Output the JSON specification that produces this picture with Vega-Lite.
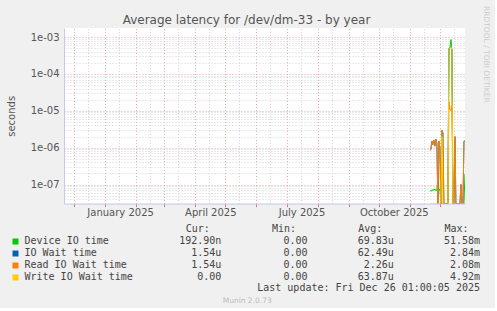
{
  "$schema": "https://vega.github.io/schema/vega-lite/v6.json",
  "background": "#f0f0f0",
  "padding": {"left": 6, "top": 6, "right": 5, "bottom": 3},
  "title": {"text": "RRDTOOL / TOBI OETIKER", "orient": "right", "anchor": "start", "font": "DejaVu Sans", "fontSize": 7.5, "fontWeight": "normal", "color": "#cccccc", "offset": 2, "dx": -8},
  "spacing": 6,
  "config": {"view": {"stroke": null}, "font": "DejaVu Sans"},
  "vconcat": [
    {
      "width": 401,
      "height": 175.6,
      "view": {"fill": "white", "stroke": null},
      "title": {"text": "Average latency for /dev/dm-33 - by year", "frame": "group", "anchor": "middle", "dx": -18, "font": "DejaVu Sans", "fontSize": 12, "fontWeight": "normal", "color": "#555555", "offset": 1},
      "data": {"values": [
        {"date": "2025-11-21", "Device IO time": 6.5e-8, "IO Wait time": 8.5e-7, "Read IO Wait time": 8.5e-7, "Write IO Wait time": 0},
        {"date": "2025-11-22", "Device IO time": 7.0e-8, "IO Wait time": 9.0e-7, "Read IO Wait time": 9.0e-7, "Write IO Wait time": 0},
        {"date": "2025-11-23", "Device IO time": 6.6e-8, "IO Wait time": 1.5e-6, "Read IO Wait time": 1.5e-6, "Write IO Wait time": 0},
        {"date": "2025-11-24", "Device IO time": 7.4e-8, "IO Wait time": 1.2e-6, "Read IO Wait time": 1.2e-6, "Write IO Wait time": 0},
        {"date": "2025-11-25", "Device IO time": 7.0e-8, "IO Wait time": 1.6e-6, "Read IO Wait time": 1.6e-6, "Write IO Wait time": 0},
        {"date": "2025-11-26", "Device IO time": 7.6e-8, "IO Wait time": 1.1e-6, "Read IO Wait time": 1.1e-6, "Write IO Wait time": 0},
        {"date": "2025-11-27", "Device IO time": 6.8e-8, "IO Wait time": 1.7e-6, "Read IO Wait time": 1.7e-6, "Write IO Wait time": 0},
        {"date": "2025-11-28", "Device IO time": 7.2e-8, "IO Wait time": 1.3e-6, "Read IO Wait time": 1.3e-6, "Write IO Wait time": 0},
        {"date": "2025-11-29", "Device IO time": 1.6e-7, "IO Wait time": 0, "Read IO Wait time": 0, "Write IO Wait time": 0},
        {"date": "2025-11-30", "Device IO time": 7.0e-8, "IO Wait time": 1.5e-6, "Read IO Wait time": 1.5e-6, "Write IO Wait time": 0},
        {"date": "2025-12-01", "Device IO time": 7.5e-8, "IO Wait time": 1.0e-6, "Read IO Wait time": 1.0e-6, "Write IO Wait time": 0},
        {"date": "2025-12-02", "Device IO time": 0, "IO Wait time": 0, "Read IO Wait time": 0, "Write IO Wait time": 0},
        {"date": "2025-12-03", "Device IO time": 0, "IO Wait time": 3.0e-6, "Read IO Wait time": 3.0e-6, "Write IO Wait time": 2.0e-6},
        {"date": "2025-12-04", "Device IO time": 0, "IO Wait time": 2.5e-6, "Read IO Wait time": 2.5e-6, "Write IO Wait time": 0},
        {"date": "2025-12-05", "Device IO time": 0, "IO Wait time": 0, "Read IO Wait time": 0, "Write IO Wait time": 0},
        {"date": "2025-12-06", "Device IO time": 0, "IO Wait time": 0, "Read IO Wait time": 0, "Write IO Wait time": 0},
        {"date": "2025-12-07", "Device IO time": 0, "IO Wait time": 0, "Read IO Wait time": 0, "Write IO Wait time": 0},
        {"date": "2025-12-08", "Device IO time": 0, "IO Wait time": 0, "Read IO Wait time": 0, "Write IO Wait time": 0},
        {"date": "2025-12-09", "Device IO time": 0, "IO Wait time": 0, "Read IO Wait time": 0, "Write IO Wait time": 0},
        {"date": "2025-12-10", "Device IO time": 4.0e-4, "IO Wait time": 5.0e-4, "Read IO Wait time": 1.8e-5, "Write IO Wait time": 5.0e-4},
        {"date": "2025-12-11", "Device IO time": 5.2e-4, "IO Wait time": 5.0e-4, "Read IO Wait time": 1.1e-5, "Write IO Wait time": 5.0e-4},
        {"date": "2025-12-12", "Device IO time": 8.5e-4, "IO Wait time": 5.5e-4, "Read IO Wait time": 1.0e-5, "Write IO Wait time": 5.5e-4},
        {"date": "2025-12-13", "Device IO time": 4.2e-4, "IO Wait time": 4.5e-4, "Read IO Wait time": 1.4e-5, "Write IO Wait time": 4.5e-4},
        {"date": "2025-12-14", "Device IO time": 0, "IO Wait time": 0, "Read IO Wait time": 0, "Write IO Wait time": 0},
        {"date": "2025-12-15", "Device IO time": 0, "IO Wait time": 0, "Read IO Wait time": 0, "Write IO Wait time": 0},
        {"date": "2025-12-16", "Device IO time": 0, "IO Wait time": 2.0e-6, "Read IO Wait time": 2.0e-6, "Write IO Wait time": 0},
        {"date": "2025-12-17", "Device IO time": 0, "IO Wait time": 0, "Read IO Wait time": 0, "Write IO Wait time": 0},
        {"date": "2025-12-18", "Device IO time": 0, "IO Wait time": 0, "Read IO Wait time": 0, "Write IO Wait time": 0},
        {"date": "2025-12-19", "Device IO time": 0, "IO Wait time": 0, "Read IO Wait time": 0, "Write IO Wait time": 0},
        {"date": "2025-12-20", "Device IO time": 0, "IO Wait time": 0, "Read IO Wait time": 0, "Write IO Wait time": 0},
        {"date": "2025-12-21", "Device IO time": 0, "IO Wait time": 0, "Read IO Wait time": 0, "Write IO Wait time": 0},
        {"date": "2025-12-22", "Device IO time": 0, "IO Wait time": 1.0e-7, "Read IO Wait time": 1.0e-7, "Write IO Wait time": 0},
        {"date": "2025-12-23", "Device IO time": 0, "IO Wait time": 0, "Read IO Wait time": 0, "Write IO Wait time": 0},
        {"date": "2025-12-24", "Device IO time": 0, "IO Wait time": 0, "Read IO Wait time": 0, "Write IO Wait time": 0},
        {"date": "2025-12-25", "Device IO time": 0, "IO Wait time": 1.5e-6, "Read IO Wait time": 1.5e-6, "Write IO Wait time": 0},
        {"date": "2025-12-26", "Device IO time": 1.93e-7, "IO Wait time": 1.54e-6, "Read IO Wait time": 1.54e-6, "Write IO Wait time": 0}
      ]},
      "transform": [{"fold": ["Device IO time", "IO Wait time", "Read IO Wait time", "Write IO Wait time"], "as": ["series", "value"]}],
      "layer": [
        {
          "mark": {"type": "line", "strokeWidth": 1, "clip": true, "invalid": "show"},
          "encoding": {
            "x": {
              "field": "date", "type": "temporal",
              "scale": {"type": "utc", "domain": [{"year": 2024, "month": 11, "date": 21, "hours": 1, "utc": true}, {"year": 2025, "month": 12, "date": 26, "hours": 1, "utc": true}]},
              "axis": {
                "orient": "top", "grid": true, "ticks": false, "labels": false, "domain": false, "title": null,
                "values": [
                  {"year": 2024, "month": 12, "date": 1, "utc": true}, {"year": 2025, "month": 1, "date": 1, "utc": true}, {"year": 2025, "month": 2, "date": 1, "utc": true}, {"year": 2025, "month": 3, "date": 1, "utc": true}, {"year": 2025, "month": 4, "date": 1, "utc": true}, {"year": 2025, "month": 5, "date": 1, "utc": true}, {"year": 2025, "month": 6, "date": 1, "utc": true}, {"year": 2025, "month": 7, "date": 1, "utc": true}, {"year": 2025, "month": 8, "date": 1, "utc": true}, {"year": 2025, "month": 9, "date": 1, "utc": true}, {"year": 2025, "month": 10, "date": 1, "utc": true}, {"year": 2025, "month": 11, "date": 1, "utc": true}, {"year": 2025, "month": 12, "date": 1, "utc": true},
                  {"year": 2024, "month": 12, "date": 15, "utc": true}, {"year": 2025, "month": 1, "date": 15, "utc": true}, {"year": 2025, "month": 2, "date": 15, "utc": true}, {"year": 2025, "month": 3, "date": 15, "utc": true}, {"year": 2025, "month": 4, "date": 15, "utc": true}, {"year": 2025, "month": 5, "date": 15, "utc": true}, {"year": 2025, "month": 6, "date": 15, "utc": true}, {"year": 2025, "month": 7, "date": 15, "utc": true}, {"year": 2025, "month": 8, "date": 15, "utc": true}, {"year": 2025, "month": 9, "date": 15, "utc": true}, {"year": 2025, "month": 10, "date": 15, "utc": true}, {"year": 2025, "month": 11, "date": 15, "utc": true}, {"year": 2025, "month": 12, "date": 15, "utc": true}
                ],
                "gridColor": {"condition": {"test": "utcdate(datum.value) == 1", "value": "#e8a8a8"}, "value": "#d4d4d4"},
                "gridDash": [1, 2], "gridWidth": 1
              }
            },
            "y": {
              "field": "value", "type": "quantitative",
              "scale": {"type": "log", "domain": [3.05e-8, 1.754e-3], "clamp": true, "nice": false},
              "axis": {
                "orient": "left",
                "values": [4e-8, 5e-8, 6e-8, 7e-8, 8e-8, 9e-8, 1e-7, 2e-7, 3e-7, 4e-7, 5e-7, 6e-7, 7e-7, 8e-7, 9e-7, 1e-6, 2e-6, 3e-6, 4e-6, 5e-6, 6e-6, 7e-6, 8e-6, 9e-6, 1e-5, 2e-5, 3e-5, 4e-5, 5e-5, 6e-5, 7e-5, 8e-5, 9e-5, 1e-4, 2e-4, 3e-4, 4e-4, 5e-4, 6e-4, 7e-4, 8e-4, 9e-4, 1e-3],
                "grid": true, "ticks": false,
                "gridColor": {"condition": {"test": "abs(log(datum.value)/LN10 - round(log(datum.value)/LN10)) < 0.01", "value": "#e8a8a8"}, "value": "#d4d4d4"},
                "gridDash": [1, 2], "gridWidth": 1,
                "domain": true, "domainColor": "#c8c8f0", "domainWidth": 1,
                "labelExpr": "abs(log(datum.value)/LN10 - round(log(datum.value)/LN10)) < 0.01 ? '1e-0' + (-round(log(datum.value)/LN10)) : ''",
                "labelFont": "DejaVu Sans", "labelFontSize": 10, "labelColor": "#555555", "labelPadding": 5, "labelOverlap": false, "labelBaseline": "middle",
                "title": "seconds", "titleFont": "DejaVu Sans", "titleFontSize": 10, "titleFontWeight": "normal", "titleColor": "#555555", "titlePadding": 14
              }
            },
            "color": {
              "field": "series", "type": "nominal",
              "scale": {"domain": ["Device IO time", "IO Wait time", "Read IO Wait time", "Write IO Wait time"], "range": ["#00cc00", "#0066b3", "#ff8000", "#ffcc00"]},
              "legend": null
            }
          }
        },
        {
          "mark": {"type": "line", "opacity": 0},
          "encoding": {
            "x": {
              "field": "date", "type": "temporal",
              "axis": {
                "orient": "bottom", "grid": false, "title": null,
                "values": [
                  {"year": 2024, "month": 12, "date": 1, "utc": true}, {"year": 2025, "month": 1, "date": 1, "utc": true}, {"year": 2025, "month": 2, "date": 1, "utc": true}, {"year": 2025, "month": 3, "date": 1, "utc": true}, {"year": 2025, "month": 4, "date": 1, "utc": true}, {"year": 2025, "month": 5, "date": 1, "utc": true}, {"year": 2025, "month": 6, "date": 1, "utc": true}, {"year": 2025, "month": 7, "date": 1, "utc": true}, {"year": 2025, "month": 8, "date": 1, "utc": true}, {"year": 2025, "month": 9, "date": 1, "utc": true}, {"year": 2025, "month": 10, "date": 1, "utc": true}, {"year": 2025, "month": 11, "date": 1, "utc": true}, {"year": 2025, "month": 12, "date": 1, "utc": true},
                  {"year": 2025, "month": 1, "date": 16, "utc": true}, {"year": 2025, "month": 4, "date": 16, "utc": true}, {"year": 2025, "month": 7, "date": 16, "utc": true}, {"year": 2025, "month": 10, "date": 16, "utc": true}
                ],
                "ticks": true, "tickSize": 3, "tickColor": "#e07070",
                "tickOpacity": {"condition": {"test": "utcdate(datum.value) == 16", "value": 0}, "value": 1},
                "domain": true, "domainColor": "#c8c8f0", "domainWidth": 1,
                "labelExpr": "utcdate(datum.value) == 16 ? utcFormat(datum.value, '%B %Y') : ''",
                "labelFont": "DejaVu Sans", "labelFontSize": 10, "labelColor": "#555555", "labelPadding": 1, "labelOverlap": false, "labelFlush": false
              }
            },
            "y": {"field": "value", "type": "quantitative"}
          }
        }
      ],
      "resolve": {"axis": {"x": "independent"}}
    },
    {
      "width": 416,
      "height": 59.4,
      "view": {"stroke": null},
      "data": {"values": [
        {"row": "hdr", "col": "cur", "text": "Cur:"},
        {"row": "hdr", "col": "min", "text": "Min:"},
        {"row": "hdr", "col": "avg", "text": "Avg:"},
        {"row": "hdr", "col": "max", "text": "Max:"},
        {"row": "Device IO time", "col": "cur", "text": "192.90n"},
        {"row": "Device IO time", "col": "min", "text": "0.00"},
        {"row": "Device IO time", "col": "avg", "text": "69.83u"},
        {"row": "Device IO time", "col": "max", "text": "51.58m"},
        {"row": "IO Wait time", "col": "cur", "text": "1.54u"},
        {"row": "IO Wait time", "col": "min", "text": "0.00"},
        {"row": "IO Wait time", "col": "avg", "text": "62.49u"},
        {"row": "IO Wait time", "col": "max", "text": "2.84m"},
        {"row": "Read IO Wait time", "col": "cur", "text": "1.54u"},
        {"row": "Read IO Wait time", "col": "min", "text": "0.00"},
        {"row": "Read IO Wait time", "col": "avg", "text": "2.26u"},
        {"row": "Read IO Wait time", "col": "max", "text": "2.08m"},
        {"row": "Write IO Wait time", "col": "cur", "text": "0.00"},
        {"row": "Write IO Wait time", "col": "min", "text": "0.00"},
        {"row": "Write IO Wait time", "col": "avg", "text": "63.87u"},
        {"row": "Write IO Wait time", "col": "max", "text": "4.92m"},
        {"row": "upd", "col": "max", "text": "Last update: Fri Dec 26 01:00:05 2025"}
      ]},
      "encoding": {
        "y": {
          "field": "row", "type": "nominal",
          "scale": {"type": "point", "domain": ["hdr", "Device IO time", "IO Wait time", "Read IO Wait time", "Write IO Wait time", "upd"], "padding": 0},
          "axis": {
            "orient": "left", "values": ["Device IO time", "IO Wait time", "Read IO Wait time", "Write IO Wait time"],
            "domain": false, "grid": false, "offset": 46,
            "ticks": true, "tickSize": 6, "tickWidth": 6,
            "tickColor": {"condition": [
              {"test": "datum.value == 'Device IO time'", "value": "#00cc00"},
              {"test": "datum.value == 'IO Wait time'", "value": "#0066b3"},
              {"test": "datum.value == 'Read IO Wait time'", "value": "#ff8000"}
            ], "value": "#ffcc00"},
            "labelAlign": "left", "labelPadding": -12, "labelBaseline": "middle",
            "labelFont": "DejaVu Sans Mono", "labelFontSize": 10, "labelColor": "#444444",
            "title": null
          }
        },
        "x": {
          "field": "col", "type": "nominal", "bandPosition": 1,
          "scale": {"type": "band", "domain": ["cur", "min", "avg", "max"], "paddingInner": 0, "paddingOuter": 0.413, "align": 1},
          "axis": {
            "orient": "bottom", "labels": false, "ticks": false, "domain": false, "grid": false,
            "title": "Munin 2.0.73", "titleFont": "DejaVu Sans", "titleFontSize": 7.5, "titleFontWeight": "normal", "titleColor": "#bbbbbb",
            "titleX": 182.7, "titleY": 12.3, "titleAlign": "center", "titleBaseline": "middle"
          }
        }
      },
      "layer": [
        {
          "transform": [{"filter": "datum.row != 'hdr'"}],
          "mark": {"type": "text", "align": "right", "baseline": "middle", "font": "DejaVu Sans Mono", "fontSize": 10, "color": "#444444"},
          "encoding": {"text": {"field": "text", "type": "nominal"}}
        },
        {
          "transform": [{"filter": "datum.row == 'hdr'"}],
          "mark": {"type": "text", "align": "right", "baseline": "middle", "font": "DejaVu Sans Mono", "fontSize": 10, "color": "#444444", "dx": -11.5},
          "encoding": {"text": {"field": "text", "type": "nominal"}}
        }
      ]
    }
  ]
}
